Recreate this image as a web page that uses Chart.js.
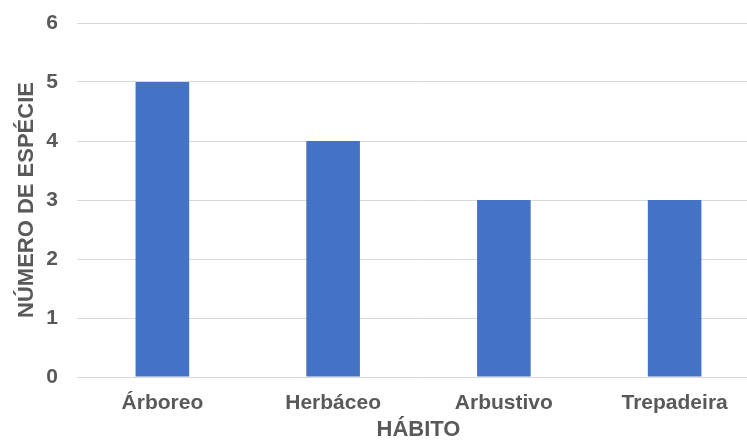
<!DOCTYPE html>
<html>
<head>
<meta charset="utf-8">
<script src="https://cdn.jsdelivr.net/npm/chart.js@4"></script>
<style>
  html, body { margin: 0; padding: 0; background: #fff; overflow: hidden; }
  #wrap { width: 760px; height: 443px; }
</style>
</head>
<body>
<div id="wrap"><canvas id="chart" width="760" height="443"></canvas></div>
<script>
// ── DATA ─────────────────────────────────────────────
const habitos  = ["Árboreo", "Herbáceo", "Arbustivo", "Trepadeira"];
const especies = [5, 4, 3, 3];
const yTicks   = [0, 1, 2, 3, 4, 5, 6];

const FONT  = { family: "'Liberation Sans', Arial, sans-serif", size: 21, weight: "bold", lineHeight: 1.2 };
const TITLE = { ...FONT, size: 22 };
const GREY  = "#595959";

new Chart(document.getElementById("chart"), {
  type: "bar",
  data: {
    labels: habitos,
    datasets: [{
      data: especies,
      backgroundColor: "#4472C4",
      borderWidth: 0,
      categoryPercentage: 1,
      barPercentage: 0.314
    }]
  },
  options: {
    responsive: false,
    animation: false,
    layout: { padding: { top: 23, left: 0, right: 0, bottom: 0 } },
    plugins: { legend: { display: false }, tooltip: { enabled: false } },
    scales: {
      x: {
        grid: { display: false, drawTicks: false },
        border: { display: false },
        ticks: { color: GREY, font: FONT, padding: 14 },
        title: { display: true, text: "HÁBITO", color: GREY, font: TITLE, padding: { top: 3, bottom: 0 } },
        afterFit: s => { s.height = 66; }
      },
      y: {
        min: yTicks[0],
        max: yTicks[yTicks.length - 1],
        // fixed axis width; top label may sit in the layout padding
        afterFit: s => { s.width = 77; s.paddingTop = 0; },
        afterBuildTicks: s => { s.ticks = yTicks.map(v => ({ value: v })); },
        grid: { color: "#d9d9d9", lineWidth: 1, drawTicks: false },
        border: { display: false },
        ticks: { color: GREY, font: FONT, padding: 19 },
        title: { display: true, text: "NÚMERO DE ESPÉCIE", color: GREY, font: TITLE, padding: { top: 14, bottom: 0 } }
      }
    }
  }
});
</script>
</body>
</html>
